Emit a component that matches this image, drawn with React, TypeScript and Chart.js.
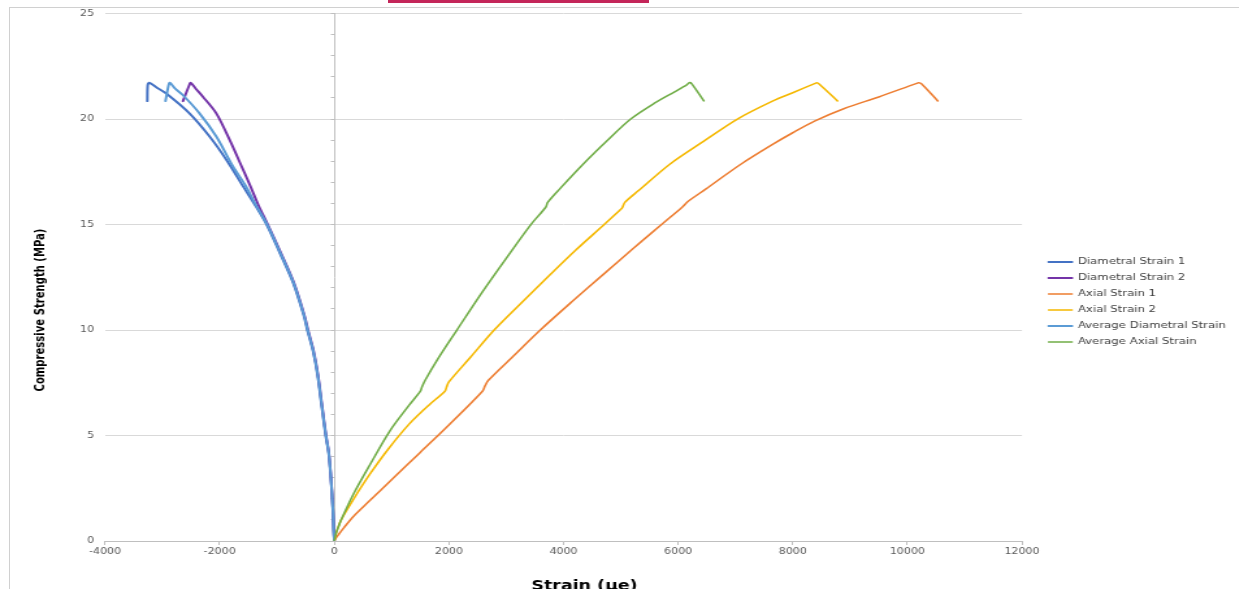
import { useEffect, useRef } from "react";
import { Chart, registerables } from "chart.js";

Chart.register(...registerables);

// ---- data (strain in µε, stress in MPa) ----
const ds1X = [0, -10, -25, -60, -100, -150, -220, -290, -370, -470, -530, -720, -950, -1180, -1370, -1591, -1883, -2175, -2526, -2936, -3100, -3230, -3255, -3262];
const ds1Y = [0, 0.5, 1.5, 3.0, 4.2, 5.0, 6.4, 7.84, 9.0, 10.0, 10.67, 12.25, 13.66, 15.0, 15.87, 16.81, 18.07, 19.17, 20.27, 21.22, 21.5, 21.72, 21.6, 20.85];

const ds2X = [0, -9, -23, -57, -95, -143, -212, -282, -360, -458, -518, -705, -932, -1160, -1327, -1460, -1591, -1825, -2058, -2292, -2420, -2505, -2530, -2640];
const ds2Y = [0, 0.5, 1.5, 3.0, 4.2, 5.0, 6.4, 7.84, 9.0, 10.0, 10.67, 12.25, 13.66, 15.0, 15.94, 16.8, 17.6, 19.01, 20.27, 21.06, 21.45, 21.72, 21.6, 20.85];

const as1X = [0, 40, 80, 160, 330, 630, 1000, 1500, 2000, 2586, 2630, 2690, 3100, 3595, 4150, 4700, 5210, 5710, 6070, 6170, 6480, 7100, 7655, 8000, 8380, 8900, 9500, 10150, 10200, 10250, 10530];
const as1Y = [0, 0.18, 0.32, 0.6, 1.15, 1.94, 2.9, 4.2, 5.5, 7.1, 7.35, 7.62, 8.7, 10.0, 11.35, 12.65, 13.85, 15.0, 15.82, 16.09, 16.68, 17.87, 18.81, 19.35, 19.9, 20.5, 21.05, 21.68, 21.72, 21.66, 20.86];

const as2X = [0, 25, 55, 120, 340, 630, 940, 1310, 1655, 1931, 1960, 2000, 2380, 2790, 3250, 3720, 4210, 4710, 5000, 5030, 5070, 5310, 5860, 6414, 7034, 7655, 8000, 8380, 8420, 8460, 8780];
const as2Y = [0, 0.3, 0.55, 1.0, 2.0, 3.2, 4.35, 5.55, 6.45, 7.1, 7.3, 7.54, 8.72, 10.0, 11.25, 12.5, 13.78, 15.0, 15.72, 15.82, 16.05, 16.61, 17.87, 18.89, 20.0, 20.86, 21.25, 21.68, 21.72, 21.66, 20.86];

const avgDX = [0, -10, -24, -58, -97, -146, -216, -286, -365, -464, -524, -712, -941, -1170, -1357, -1550, -1766, -2058, -2351, -2643, -2780, -2870, -2895, -2945];
const avgDY = [0, 0.5, 1.5, 3.0, 4.2, 5.0, 6.4, 7.84, 9.0, 10.0, 10.67, 12.25, 13.66, 15.0, 15.87, 16.85, 17.75, 19.17, 20.27, 21.14, 21.45, 21.72, 21.55, 20.85];

const avgAX = [0, 25, 55, 120, 340, 630, 966, 1310, 1503, 1530, 1586, 1800, 2140, 2570, 3000, 3430, 3690, 3724, 3931, 4345, 4759, 5172, 5586, 5931, 6150, 6193, 6235, 6448];
const avgAY = [0, 0.3, 0.55, 1.0, 2.25, 3.65, 5.2, 6.45, 7.1, 7.3, 7.62, 8.6, 10.0, 11.75, 13.4, 15.0, 15.82, 16.05, 16.68, 17.87, 18.97, 20.0, 20.75, 21.28, 21.62, 21.72, 21.68, 20.86];

const seriesLabels = [
  "Diametral Strain 1",
  "Diametral Strain 2",
  "Axial Strain 1",
  "Axial Strain 2",
  "Average Diametral Strain",
  "Average Axial Strain",
];
const seriesColors = ["#4472C4", "#7434A8", "#ED7D31", "#F5B800", "#5B9BD5", "#70AD47"];

const X_MIN = -4000;
const X_MAX = 12000;
const X_STEP = 2000;
const Y_MIN = 0;
const Y_MAX = 25;
const Y_STEP = 5;
const Y_TITLE = "Compressive Strength (MPa)";
const X_TITLE = "Strain (µe)";

// ---- layout (the screenshot is horizontally stretched) ----
const S = 1.3;
const CW = Math.round(1239 / S);
const CH = 600;
const P = (px: number) => px / S;

const pts = (xs: number[], ys: number[]) => xs.map((x, i) => ({ x, y: ys[i] }));

const titlesPlugin = {
  id: "titlesPlugin",
  afterDraw(chart: any) {
    const { ctx } = chart;
    ctx.save();
    ctx.fillStyle = "#000";
    ctx.textAlign = "center";
    ctx.textBaseline = "alphabetic";
    ctx.font = "bold 13.4px 'DejaVu Sans', sans-serif";
    ctx.fillText(X_TITLE, P(584.5), CH - 10);
    ctx.translate(P(40), 310);
    ctx.rotate(-Math.PI / 2);
    ctx.textBaseline = "middle";
    ctx.font = "bold 11.2px 'DejaVu Sans Condensed', 'DejaVu Sans', sans-serif";
    ctx.fillText(Y_TITLE, 0, 0);
    ctx.restore();
  },
};

export default function App() {
  const ref = useRef<HTMLCanvasElement>(null);

  useEffect(() => {
    const xs = [ds1X, ds2X, as1X, as2X, avgDX, avgAX];
    const ys = [ds1Y, ds2Y, as1Y, as2Y, avgDY, avgAY];
    const widths = [2, 2, 1.6, 1.6, 2, 1.6];
    const datasets = seriesLabels.map((label, i) => ({
      label,
      data: pts(xs[i], ys[i]),
      borderColor: seriesColors[i],
      backgroundColor: seriesColors[i],
      borderWidth: widths[i],
      showLine: true,
      pointRadius: 0,
      pointHoverRadius: 0,
      tension: 0.3,
      order: 6 - i,
      xAxisID: "x",
      yAxisID: "y",
      borderJoinStyle: "round" as const,
      borderCapStyle: "round" as const,
    }));

    const tickFont = { size: 8.5, family: "'DejaVu Sans', sans-serif" };

    const chart = new Chart(ref.current!, {
      type: "scatter",
      data: { datasets },
      plugins: [titlesPlugin],
      options: {
        animation: false,
        responsive: false,
        events: [],
        layout: { padding: { top: 4, left: 0, right: 0, bottom: 0 } },
        scales: {
          x: {
            type: "linear",
            position: "bottom",
            min: X_MIN,
            max: X_MAX,
            afterFit: (s: any) => {
              s.height = CH - 541;
            },
            ticks: {
              stepSize: X_STEP,
              autoSkip: false,
              maxRotation: 0,
              font: tickFont,
              color: "#595959",
              padding: 2,
              callback: (v: any) => String(v),
            },
            grid: { drawOnChartArea: false, drawTicks: true, tickLength: 4, color: "#bfbfbf" },
            border: { display: true, color: "#bfbfbf" },
          },
          y: {
            type: "linear",
            position: "left",
            min: Y_MIN,
            max: Y_MAX,
            afterFit: (s: any) => {
              s.width = P(105);
            },
            ticks: {
              stepSize: Y_STEP,
              autoSkip: false,
              font: tickFont,
              color: "#595959",
              padding: P(11),
            },
            grid: { color: "#d9d9d9", drawTicks: false },
            border: { display: false },
          },
          y0: {
            type: "linear",
            axis: "y",
            position: { x: 0 },
            min: Y_MIN,
            max: Y_MAX,
            ticks: { display: false, stepSize: 1 },
            grid: { drawOnChartArea: false, drawTicks: true, tickLength: 2.5, color: "#bfbfbf" },
            border: { display: true, color: "#bfbfbf" },
          },
          xTop: {
            type: "linear",
            axis: "x",
            position: "top",
            afterFit: (s: any) => {
              s.height = 8;
            },
            ticks: { display: false },
            grid: { display: false },
            border: { display: false },
          },
          yR: {
            type: "linear",
            axis: "y",
            position: "right",
            afterFit: (s: any) => {
              const lw = s.chart.legend ? s.chart.legend.width : 0;
              s.width = Math.max(0, CW - lw - P(1022));
            },
            ticks: { display: false },
            grid: { display: false },
            border: { display: false },
          },
        } as any,
        plugins: {
          tooltip: { enabled: false },
          legend: {
            position: "right",
            align: "center",
            maxWidth: 300,
            labels: {
              boxWidth: 18,
              boxHeight: 0,
              padding: 7,
              color: "#404040",
              font: { size: 9, family: "'DejaVu Sans', sans-serif" },
              sort: (a: any, b: any) => a.datasetIndex - b.datasetIndex,
            },
          },
        },
      } as any,
    });
    return () => chart.destroy();
  }, []);

  return (
    <div
      style={{
        position: "fixed",
        left: 0,
        top: 0,
        width: 1239,
        height: 589,
        overflow: "hidden",
        background: "#fff",
      }}
    >
      <div
        style={{
          position: "absolute",
          left: 9,
          top: 7,
          right: 0,
          bottom: 0,
          borderTop: "1px solid #d0d0d0",
          borderLeft: "1px solid #d0d0d0",
        }}
      />
      <div style={{ position: "absolute", left: 388, top: 0, width: 261, height: 3, background: "#c4265a" }} />
      <div
        style={{
          position: "absolute",
          left: 0,
          top: 0,
          width: CW,
          height: CH,
          transform: `scaleX(${S})`,
          transformOrigin: "0 0",
        }}
      >
        <canvas ref={ref} width={CW} height={CH} style={{ display: "block" }} />
      </div>
    </div>
  );
}
